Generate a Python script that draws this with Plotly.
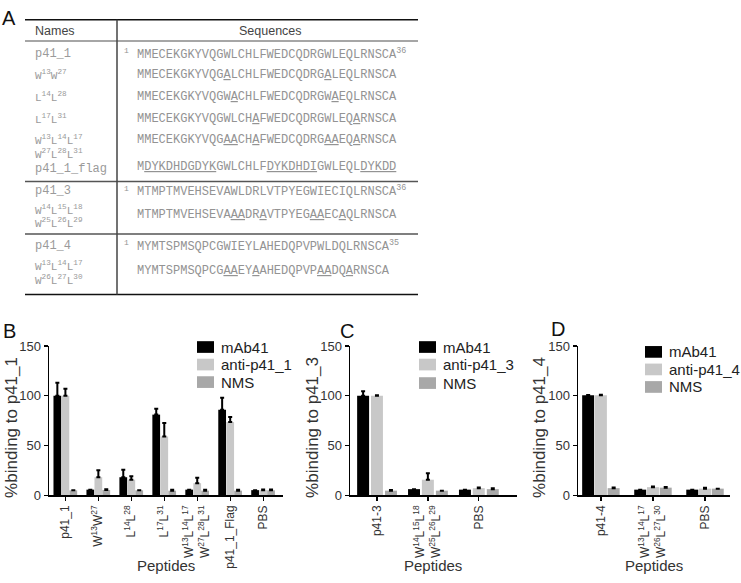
import plotly.graph_objects as go

W, H = 741, 583
def X(px): return px / W
def Y(py): return 1 - py / H

# ---------------- data ----------------
series_names = ["mAb41", "anti-p41_1", "NMS"]
colors = ["#000000", "#c8c8c8", "#a8a8a8"]

b_cats = ["p41_1", "W<sup>13</sup>W<sup>27</sup>", "L<sup>14</sup>L<sup>28</sup>", "L<sup>17</sup>L<sup>31</sup>",
          "W<sup>13</sup>L<sup>14</sup>L<sup>17</sup><br>W<sup>27</sup>L<sup>28</sup>L<sup>31</sup>", "p41_1_Flag", "PBS"]
b_mab41 = [100, 5.5, 18, 81, 5.5, 86, 5]
b_mab41_err = [13, 0, 7.5, 6, 0, 12, 0]
b_anti = [100, 18, 15.5, 59, 12, 73.5, 5]
b_anti_err = [7, 7, 3.5, 13.5, 5.5, 5, 0.6]
b_nms = [4.8, 5.2, 4.8, 4.5, 4.5, 4.5, 4.8]
b_nms_err = [0, 0.8, 0, 0.8, 0.8, 0.8, 0.8]

c_cats = ["p41-3", "W<sup>14</sup>L<sup>15</sup>L<sup>18</sup><br>W<sup>25</sup>L<sup>26</sup>L<sup>29</sup>", "PBS"]
c_mab41 = [100, 6, 5.5]
c_mab41_err = [4.5, 0, 0]
c_anti = [100, 15.5, 7]
c_anti_err = [0.6, 6.5, 0.6]
c_nms = [4.5, 4.5, 6]
c_nms_err = [0.6, 0, 0.8]

d_cats = ["p41-4", "W<sup>13</sup>L<sup>14</sup>L<sup>17</sup><br>W<sup>26</sup>L<sup>27</sup>L<sup>30</sup>", "PBS"]
d_mab41 = [100.5, 5.5, 5.5]
d_mab41_err = [0.3, 0, 0]
d_anti = [100.5, 8, 6.5]
d_anti_err = [0.5, 0.6, 0.8]
d_nms = [7, 7.5, 6.5]
d_nms_err = [0.6, 0.6, 0]

yticks = [0, 50, 100, 150]

# table data (one entry per text line)
name_lines = [
    "p41_1", "W<sup>13</sup>W<sup>27</sup>", "L<sup>14</sup>L<sup>28</sup>", "L<sup>17</sup>L<sup>31</sup>",
    "W<sup>13</sup>L<sup>14</sup>L<sup>17</sup>", "W<sup>27</sup>L<sup>28</sup>L<sup>31</sup>", "p41_1_flag",
    "p41_3", "W<sup>14</sup>L<sup>15</sup>L<sup>18</sup>", "W<sup>25</sup>L<sup>26</sup>L<sup>29</sup>",
    "p41_4", "W<sup>13</sup>L<sup>14</sup>L<sup>17</sup>", "W<sup>26</sup>L<sup>27</sup>L<sup>30</sup>",
]
name_y = [48, 70, 92, 115, 136, 151, 166, 189, 208, 222, 245, 266, 280]
sequences = [
    "MMECEKGKYVQGWLCHLFWEDCQDRGWLEQLRNSCA<sup>36</sup>",
    "MMECEKGKYVQG<u>A</u>LCHLFWEDCQDRG<u>A</u>LEQLRNSCA",
    "MMECEKGKYVQGW<u>A</u>CHLFWEDCQDRGW<u>A</u>EQLRNSCA",
    "MMECEKGKYVQGWLCH<u>A</u>FWEDCQDRGWLEQ<u>A</u>RNSCA",
    "MMECEKGKYVQG<u>AA</u>CH<u>A</u>FWEDCQDRG<u>AA</u>EQ<u>A</u>RNSCA",
    "M<u>DYKDHDGDYK</u>GWLCHLF<u>DYKDHDI</u>GWLEQL<u>DYKDD</u>",
    "MTMPTMVEHSEVAWLDRLVTPYEGWIECIQLRNSCA<sup>36</sup>",
    "MTMPTMVEHSEVA<u>AA</u>DR<u>A</u>VTPYEG<u>AA</u>EC<u>A</u>QLRNSCA",
    "MYMTSPMSQPCGWIEYLAHEDQPVPWLDQLRNSCA<sup>35</sup>",
    "MYMTSPMSQPCG<u>AA</u>EY<u>A</u>AHEDQPVP<u>AA</u>DQ<u>A</u>RNSCA",
]
has_start = [True, False, False, False, False, False, True, False, True, False]
seq_y = [48, 70, 92, 115, 137, 164, 189, 214, 245, 271]

# ---------------- figure ----------------
fig = go.Figure()

panels = [
    ("x", "y", b_cats, [b_mab41, b_anti, b_nms], [b_mab41_err, b_anti_err, b_nms_err],
     [-0.364, -0.12, 0.12], 0.235),
    ("x2", "y2", c_cats, [c_mab41, c_anti, c_nms], [c_mab41_err, c_anti_err, c_nms_err],
     [-0.39, -0.118, 0.157], 0.235),
    ("x3", "y3", d_cats, [d_mab41, d_anti, d_nms], [d_mab41_err, d_anti_err, d_nms_err],
     [-0.36, -0.115, 0.13], 0.23),
]
for xa, ya, cats, vals, errs, offs, wd in panels:
    for k in range(3):
        fig.add_trace(go.Bar(
            x=cats, y=vals[k], xaxis=xa, yaxis=ya, name=series_names[k],
            marker=dict(color=colors[k], line=dict(width=0)),
            width=wd, offset=offs[k], showlegend=False,
            error_y=dict(type="data", array=errs[k], arrayminus=[0] * len(cats), symmetric=False,
                         color="black", thickness=2, width=2),
        ))

axis_common = dict(showline=True, linecolor="black", linewidth=1.5, ticks="outside", ticklen=4,
                   tickcolor="black", tickwidth=1.2, showgrid=False, zeroline=False,
                   tickfont=dict(family="Liberation Sans", size=12, color="#333"))
yfont = dict(family="Liberation Sans", size=13, color="#333")
ydom = [Y(501), Y(348)]
fig.update_layout(
    width=W, height=H, margin=dict(l=0, r=0, t=0, b=0),
    paper_bgcolor="white", plot_bgcolor="white", barmode="overlay",
    xaxis=dict(domain=[X(49), X(283)], anchor="y", range=[-0.5, 6.6], tickangle=-90, type="category", **axis_common),
    yaxis=dict(domain=ydom, anchor="x", range=[0, 150], tickvals=yticks, **{**axis_common, "tickfont": yfont}),
    xaxis2=dict(domain=[X(350), X(517)], anchor="y2", range=[-0.53, 2.75], tickangle=-90, type="category", **axis_common),
    yaxis2=dict(domain=ydom, anchor="x2", range=[0, 150], tickvals=yticks, **{**axis_common, "tickfont": yfont}),
    xaxis3=dict(domain=[X(578), X(730)], anchor="y3", range=[-0.44, 2.48], tickangle=-90, type="category", **axis_common),
    yaxis3=dict(domain=ydom, anchor="x3", range=[0, 150], tickvals=yticks, **{**axis_common, "tickfont": yfont}),
)

ann = []
shapes = []
sans = "Liberation Sans"
mono = "Liberation Mono"

def text(px, py, s, size, color="#222", family=sans, xanchor="center", yanchor="middle", angle=0):
    ann.append(dict(x=X(px), y=Y(py), xref="paper", yref="paper", text=s, showarrow=False,
                    xanchor=xanchor, yanchor=yanchor, textangle=angle,
                    font=dict(family=family, size=size, color=color)))

def line(x0, y0, x1, y1, color="black", width=1.5):
    shapes.append(dict(type="line", xref="paper", yref="paper", x0=X(x0), y0=Y(y0), x1=X(x1), y1=Y(y1),
                       line=dict(color=color, width=width)))

# panel letters
text(9, 11, "A", 20, "#111")
text(9, 333, "B", 20, "#111")
text(347, 333, "C", 20, "#111")
text(558, 331, "D", 20, "#111")

# table
line(25, 13, 418, 13, "#111", 1.5)
line(25, 35, 418, 35, "#888", 1.5)
line(25, 179, 418, 179, "#555", 1.5)
line(25, 233, 418, 233, "#555", 1.5)
line(25, 295, 418, 295, "#111", 1.5)
line(117, 13, 117, 295, "#444", 1.5)
text(33, 25, "Names", 12.5, "#444", xanchor="left")
text(270, 25, "Sequences", 12.5, "#444")
for nm, ny in zip(name_lines, name_y):
    size = 12 if "sup" not in nm else 11
    text(33, ny, nm, size, "#9a9a9a", family=mono, xanchor="left")
for sq, sy, st in zip(sequences, seq_y, has_start):
    text(135, sy, sq, 12, "#939393", family=mono, xanchor="left")
    if st:
        text(131, sy - 3, "1", 8, "#939393", family=mono, xanchor="right")

# axis titles
text(12, 432, "%binding to p41_1", 17, "#333", angle=-90)
text(313, 432, "%binding to p41_3", 17, "#333", angle=-90)
text(540, 432, "%binding to p41_4", 17, "#333", angle=-90)
text(166, 573, "Peptides", 15, "#333")
text(433, 573, "Peptides", 15, "#333")
text(654, 573, "Peptides", 15, "#333")

# legends
legends = [
    (197, [349, 367, 385], ["mAb41", "anti-p41_1", "NMS"]),
    (419, [349, 367, 386], ["mAb41", "anti-p41_3", "NMS"]),
    (645, [354, 372, 390], ["mAb41", "anti-p41_4", "NMS"]),
]
for lx, rows, labels in legends:
    for k, (ry, lab) in enumerate(zip(rows, labels)):
        shapes.append(dict(type="rect", xref="paper", yref="paper", x0=X(lx), x1=X(lx + 17),
                           y0=Y(ry + 6), y1=Y(ry - 6), fillcolor=colors[k], line=dict(width=0)))
        text(lx + 22, ry, lab, 15, "#222", xanchor="left")

fig.update_layout(annotations=ann, shapes=shapes)
fig.write_html("out.html", config={"displayModeBar": False, "staticPlot": True},
               post_script="document.body.style.margin='0';document.body.style.overflow='hidden';")
